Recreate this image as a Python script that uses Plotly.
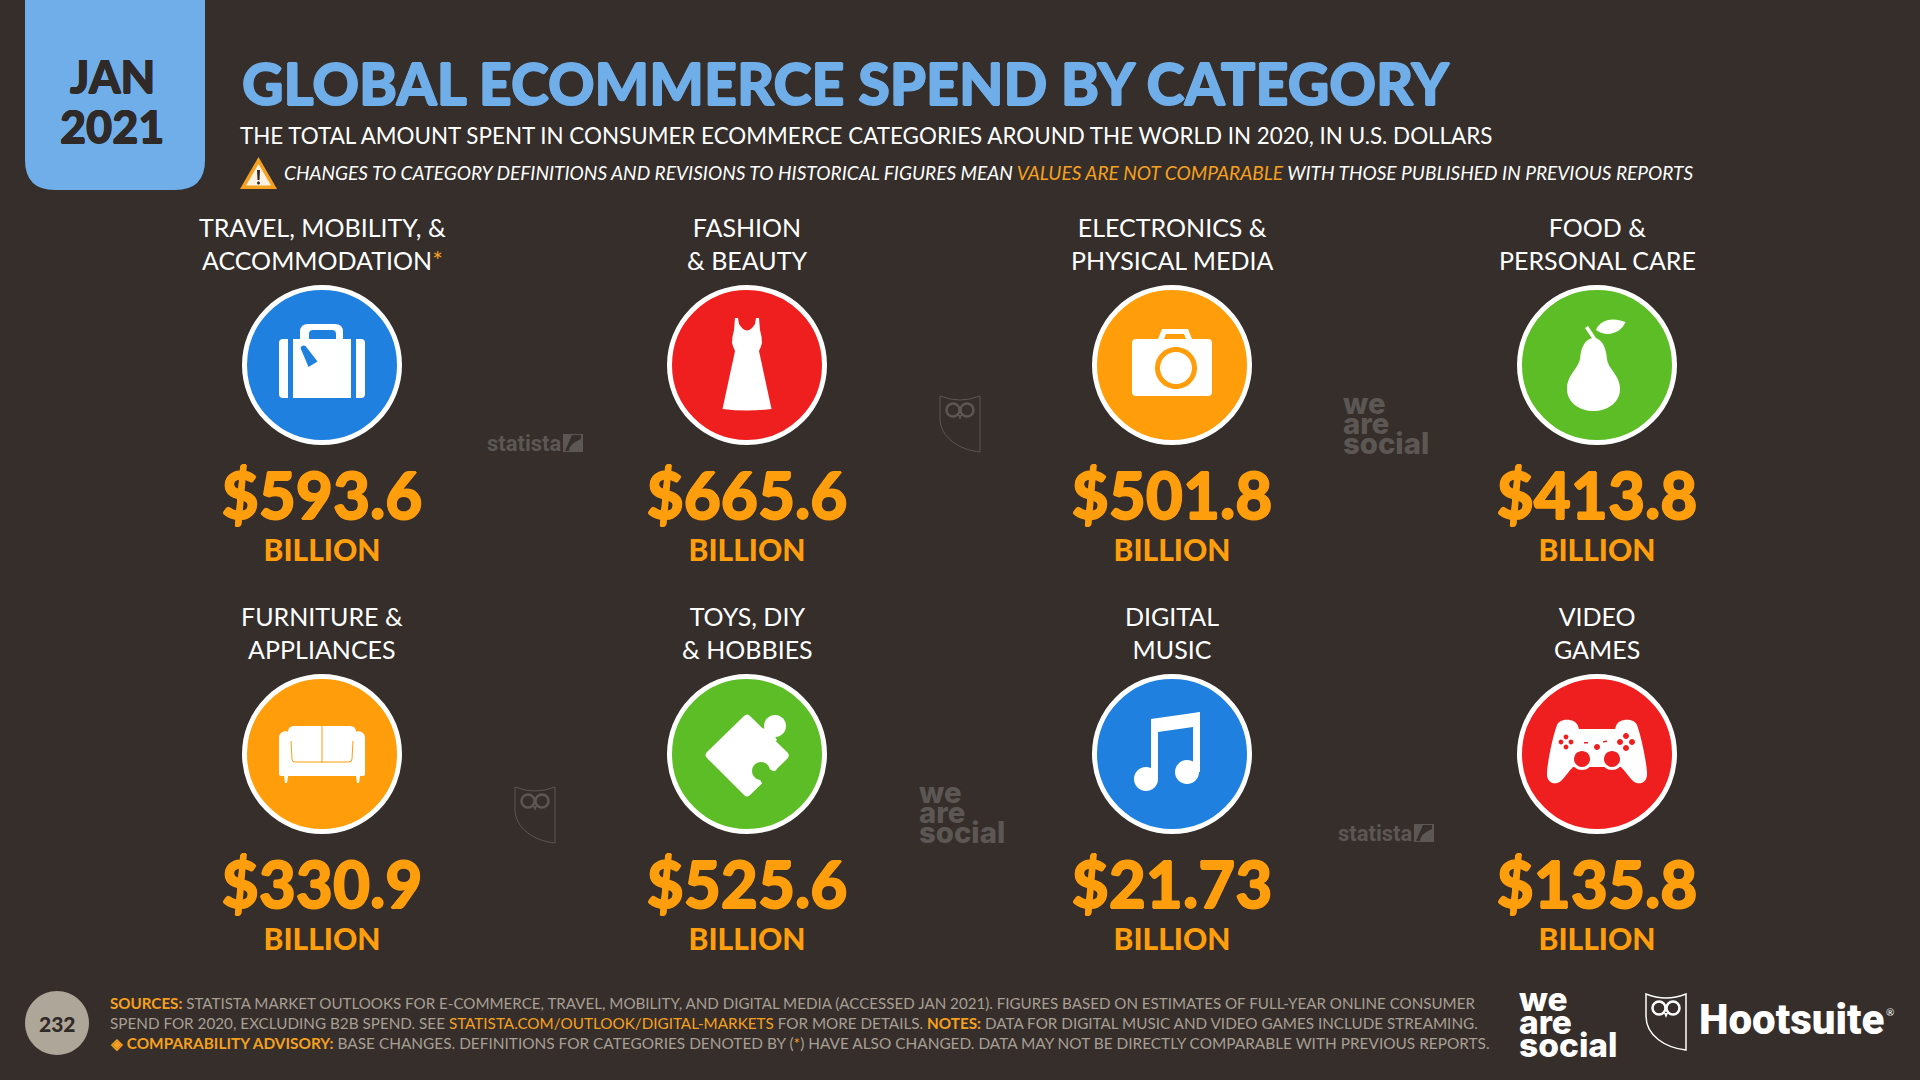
import re
import plotly.graph_objects as go

BG = '#352e2a'
BLUE_TAG = '#70aee9'
ORANGE = '#ff9e0c'
ORANGE_TXT = '#f5a11f'
GREY_TXT = '#a89f94'
WATERMARK = '#5c5754'
BLUE, RED, AMBER, GREEN = '#1f80e0', '#f01f1f', '#ff9e0a', '#5dbd26'

categories = ['TRAVEL, MOBILITY, &<br>ACCOMMODATION<span style="color:#f5a11f">*</span>',
              'FASHION<br>& BEAUTY',
              'ELECTRONICS &<br>PHYSICAL MEDIA',
              'FOOD &<br>PERSONAL CARE',
              'FURNITURE &<br>APPLIANCES',
              'TOYS, DIY<br>& HOBBIES',
              'DIGITAL<br>MUSIC',
              'VIDEO<br>GAMES']
spend_billion = [593.6, 665.6, 501.8, 413.8, 330.9, 525.6, 21.73, 135.8]
unit_label = 'BILLION'

title = 'GLOBAL ECOMMERCE SPEND BY CATEGORY'
subtitle = 'THE TOTAL AMOUNT SPENT IN CONSUMER ECOMMERCE CATEGORIES AROUND THE WORLD IN 2020, IN U.S. DOLLARS'
warning = ('CHANGES TO CATEGORY DEFINITIONS AND REVISIONS TO HISTORICAL FIGURES MEAN '
           '<span style="color:#f5a11f">VALUES ARE NOT COMPARABLE</span> '
           'WITH THOSE PUBLISHED IN PREVIOUS REPORTS')
footer_lines = [
    '<b style="color:#f5a11f">SOURCES:</b> STATISTA MARKET OUTLOOKS FOR E-COMMERCE, TRAVEL, MOBILITY, AND DIGITAL MEDIA (ACCESSED JAN 2021). FIGURES BASED ON ESTIMATES OF FULL-YEAR ONLINE CONSUMER',
    'SPEND FOR 2020, EXCLUDING B2B SPEND. SEE <span style="color:#f5a11f">STATISTA.COM/OUTLOOK/DIGITAL-MARKETS</span> FOR MORE DETAILS. <b style="color:#f5a11f">NOTES:</b> DATA FOR DIGITAL MUSIC AND VIDEO GAMES INCLUDE STREAMING.',
    '<b style="color:#f5a11f">◈ COMPARABILITY ADVISORY:</b> BASE CHANGES. DEFINITIONS FOR CATEGORIES DENOTED BY (<span style="color:#f5a11f">*</span>) HAVE ALSO CHANGED. DATA MAY NOT BE DIRECTLY COMPARABLE WITH PREVIOUS REPORTS.',
]

# layout of the 4x2 grid, in page pixels
COL_X = [322, 747, 1172, 1597]
ROW_Y = [365, 754]
circle_colors = [BLUE, RED, AMBER, GREEN, AMBER, GREEN, BLUE, RED]

shapes = []
annotations = []


def place(path, cx, cy, s=1.0):
    def move(m):
        return f'{cx + float(m.group(1)) * s:.2f},{cy + float(m.group(2)) * s:.2f}'
    return re.sub(r'(-?[\d.]+),(-?[\d.]+)', move, path)


def circ(x, y, r):
    k = 0.5523 * r
    return (f'M{x - r},{y} C{x - r},{y - k} {x - k},{y - r} {x},{y - r} '
            f'C{x + k},{y - r} {x + r},{y - k} {x + r},{y} '
            f'C{x + r},{y + k} {x + k},{y + r} {x},{y + r} '
            f'C{x - k},{y + r} {x - r},{y + k} {x - r},{y} Z')


def fill(path, cx, cy, color, s=1.0):
    shapes.append(dict(type='path', path=place(path, cx, cy, s), fillcolor=color,
                       line=dict(width=0), xref='x', yref='y'))


def stroke(path, cx, cy, color, width, s=1.0):
    shapes.append(dict(type='path', path=place(path, cx, cy, s),
                       line=dict(color=color, width=width), xref='x', yref='y'))


def thicken(color, w):
    # the reference face is heavier than any installed one
    return f'{w}px 0 0 {color}, -{w}px 0 0 {color}, 0 {w}px 0 {color}, 0 -{w}px 0 {color}'


def text(x, y, s, size, color='white', weight=400, anchor='center', italic=False, family='Lato', heavy=0):
    font = dict(family=family, size=size, color=color, weight=weight,
                style='italic' if italic else 'normal')
    if heavy:
        font['shadow'] = thicken(color, heavy)
    annotations.append(dict(x=x, y=y, text=s, showarrow=False, xanchor=anchor, yanchor='middle',
                            align=anchor if anchor != 'center' else 'center', xref='x', yref='y',
                            font=font))


def suitcase(cx, cy, c):
    w = 'white'
    fill('M-43,-22 Q-43,-26 -39,-26 L-34,-26 L-34,33 L-39,33 Q-43,33 -43,29 Z', cx, cy, w)
    fill('M43,-22 Q43,-26 39,-26 L34,-26 L34,33 L39,33 Q43,33 43,29 Z', cx, cy, w)
    fill('M-29,-26 L29,-26 L29,33 L-29,33 Z', cx, cy, w)
    fill('M-22,-26 L-22,-33 Q-22,-41 -14,-41 L13,-41 Q21,-41 21,-33 L21,-26 L14,-26 L14,-31 '
         'Q14,-35 10,-35 L-9,-35 Q-13,-35 -13,-31 L-13,-26 Z', cx, cy, w)
    fill('M-21.5,-17 Q-20,-20.5 -16.5,-19 L-4.5,-3.5 L-13.5,2 Z', cx, cy, c)


def dress(cx, cy, c):
    fill('M-12,-47 L-9,-47 L-8,-41 Q0,-28 8,-41 L9,-47 L12,-47 L13,-35 Q15,-28 15,-22 Q14,-18 12,-14 '
         'L24.5,44 Q0,47 -24.5,44 L-12,-14 Q-14,-18 -15,-22 Q-15,-28 -13,-35 Z', cx, cy, 'white')


def camera(cx, cy, c):
    fill('M-36,-26 L-14,-26 L-10,-36 L16,-36 L20,-26 L36,-26 Q40,-26 40,-22 L40,27 Q40,31 36,31 '
         'L-36,31 Q-40,31 -40,27 L-40,-22 Q-40,-26 -36,-26 Z', cx, cy, 'white')
    fill('M-6,-31 L12,-31 L14,-26 L-8,-26 Z', cx, cy, c)
    fill(circ(4, 3, 21), cx, cy, c)
    fill(circ(4, 3, 16), cx, cy, 'white')


def pear(cx, cy, c):
    fill('M-4,-27 C3,-28 9,-20 10,-6 C11,4 23,10 23,24 C23,38 10,46 -3.5,46 C-17,46 -30,38 -30,24 '
         'C-30,10 -19,4 -17,-6 C-16,-18 -12,-26 -4,-27 Z', cx, cy, 'white')
    fill('M-12,-37 L-9,-39 L-1,-27 L-4,-25 Z', cx, cy, 'white')
    fill('M-1,-35 C2,-44 14,-49 28.5,-43 C24,-32 10,-27 -1,-35 Z', cx, cy, 'white')


def sofa(cx, cy, c):
    w = 'white'
    fill('M-34,-22 Q-34,-28 -28,-28 L28,-28 Q34,-28 34,-22 L34,10 L-34,10 Z', cx, cy, w)
    fill('M-43,-16 C-43,-25 -30,-25 -30,-16 L-30,8 L30,8 L30,-16 C30,-25 43,-25 43,-16 '
         'L43,20 Q43,22 41,22 L-41,22 Q-43,22 -43,20 Z', cx, cy, w)
    fill('M-38,22 L-34,22 L-35,29 L-37,29 Z', cx, cy, w)
    fill('M38,22 L34,22 L35,29 L37,29 Z', cx, cy, w)
    stroke('M-31,-13 L-30,5 Q-30,8 -27,8 L27,8 Q30,8 30,5 L31,-13', cx, cy, c, 1)
    stroke('M0,-28 L0,9', cx, cy, c, 1)


def puzzle(cx, cy, c):
    fill('M-3,-38 Q0,-41 3,-38 L41,-1 Q43,2 40,5 L3,41 Q0,44 -3,41 L-40,4 Q-43,1 -40,-2 Z', cx, cy, 'white')
    fill(circ(28, -28, 11), cx, cy, 'white')
    fill('M14,-26 L24,-24 L30,-14 L24,-8 Z', cx, cy, 'white')
    fill(circ(14, 17, 9), cx, cy, c)
    fill('M20,14 L33,20 L17,33 L12,24 Z', cx, cy, c)
    fill(circ(27, 14, 3), cx, cy, 'white')


def music(cx, cy, c):
    w = 'white'
    fill(circ(-26, 25, 12), cx, cy, w)
    fill(circ(15, 18, 12), cx, cy, w)
    fill('M-21,-35 L-14,-35 L-14,25 L-21,25 Z', cx, cy, w)
    fill('M21,-40 L28,-42 L28,18 L21,18 Z', cx, cy, w)
    fill('M-21,-35 L28,-42 L28,-28 L-21,-21 Z', cx, cy, w)


def gamepad(cx, cy, c):
    fill('M-40,-29 C-37,-36 -22,-36 -19,-28 L-18,-25 L18,-25 L19,-28 C22,-36 37,-36 40,-29 '
         'C44,-18 49,5 50,18 C51,29 42,32 36,27 C32,23 28,17 24,13 L-24,13 C-28,17 -32,23 -36,27 '
         'C-42,32 -51,29 -50,18 C-49,5 -44,-18 -40,-29 Z', cx, cy, 'white')
    for sx in (-15, 15):
        fill(circ(sx, 5, 11), cx, cy, 'white')
        fill(circ(sx, 5, 8), cx, cy, c)
    for dx, dy in [(-5, 0), (5, 0), (0, -5), (0, 5)]:
        fill(circ(-31 + dx, -12 + dy, 2.4), cx, cy, c)
        fill(circ(29 + dx * 1.2, -12 + dy * 1.2, 3), cx, cy, c)
    fill(circ(0, -7, 3), cx, cy, c)
    fill('M-13,-12 L-9,-12 L-9,-10.5 L-13,-10.5 Z', cx, cy, c)
    fill('M6,-13 L10,-13.5 L10,-12 L6,-11.5 Z', cx, cy, c)


def owl(cx, cy, color, s=1.0, width=1.5):
    stroke('M-20,-28 Q-10,-24 0,-24 Q10,-24 20,-28 L20,28 C0,26 -20,14 -20,-6 Z', cx, cy, color, width, s)
    stroke(circ(-7, -14, 6.5), cx, cy, color, 2.5, s)
    stroke(circ(7, -14, 6.5), cx, cy, color, 2.5, s)
    fill('M-2,-9 L2,-9 L0,-4 Z', cx, cy, color, s)


def statista(x, y):
    text(x, y, 'statista', 22, WATERMARK, 700, 'left', family='Roboto')
    fill('M0,0 L20,0 L20,18 L0,18 Z', x + 78, y - 9, WATERMARK)
    fill('M18,1 L9,1 L2,17 L6,17 Q6,10 18,5 Z', x + 78, y - 9, BG)


def we_are_social(x, y, size, pitch, color):
    for i, word in enumerate(['we', 'are', 'social']):
        text(x, y + i * pitch, word, size, color, 800, 'left', family='Inter')


fig = go.Figure()

# category discs
disc_x = [COL_X[i % 4] for i in range(len(categories))]
disc_y = [ROW_Y[i // 4] for i in range(len(categories))]
fig.add_trace(go.Scatter(x=disc_x, y=disc_y, mode='markers', hoverinfo='skip',
                         marker=dict(size=155, color=circle_colors, line=dict(color='white', width=5))))

# big dollar values and the unit under them
fig.add_trace(go.Scatter(x=disc_x, y=[y + 138 for y in disc_y], mode='text', hoverinfo='skip',
                         text=[f'${v}' for v in spend_billion], textposition='middle center',
                         textfont=dict(family='Lato', size=64, color=ORANGE, weight=900,
                                       shadow=thicken(ORANGE, 0.7))))
fig.add_trace(go.Scatter(x=disc_x, y=[y + 188 for y in disc_y], mode='text', hoverinfo='skip',
                         text=[unit_label] * len(disc_x), textposition='middle center',
                         textfont=dict(family='Lato', size=30, color=ORANGE, weight=900)))

for x, y, label in zip(disc_x, disc_y, categories):
    text(x, y - 121.5, label, 25, 'white', 400)

for draw, x, y, c in zip([suitcase, dress, camera, pear, sofa, puzzle, music, gamepad],
                         disc_x, disc_y, circle_colors):
    draw(x, y, c)

# date tag
shapes.append(dict(type='path', xref='x', yref='y', fillcolor=BLUE_TAG, line=dict(width=0),
                   path='M25,0 L205,0 L205,160 Q205,190 175,190 L55,190 Q25,190 25,160 Z'))
text(112, 76, 'JAN', 45, '#2f2a27', 900, heavy=0.5)
text(112, 126, '2021', 45, '#2f2a27', 900, heavy=0.5)

# header
text(240, 82, title, 57.5, BLUE_TAG, 900, 'left', heavy=0.8)
text(238, 135, subtitle, 22.4, 'white', 400, 'left')
text(282, 172, warning, 19.1, 'white', 400, 'left', italic=True)
fill('M258.5,157 L277,189 L240,189 Z', 0, 0, ORANGE_TXT)
fill('M258.5,164 L271,185.5 L246,185.5 Z', 0, 0, '#f8f1e4')
fill('M257,170 L260,170 L259.5,180 L257.5,180 Z', 0, 0, '#2f2a27')
fill(circ(258.5, 183, 1.5), 0, 0, '#2f2a27')

# footer
fill(circ(57, 1023, 32), 0, 0, '#aea698')
text(57, 1023, '232', 21, '#2f2a27', 900)
for y, size, line in zip([1003, 1023, 1043], [15.15, 15.25, 15.4], footer_lines):
    text(108, y, line, size, GREY_TXT, 400, 'left')

we_are_social(1517, 999, 33.5, 23, 'white')
owl(1666, 1022, 'white', 1.0, 1.5)
text(1697, 1019, 'Hootsuite', 42, 'white', 900, 'left', family='Roboto')
text(1896, 1012, '®', 10, 'white', 400, 'right')

# faint watermarks between the columns
statista(485, 443)
statista(1336, 833)
we_are_social(1341, 403, 29.3, 20, WATERMARK)
we_are_social(917, 792, 29.3, 20, WATERMARK)
owl(960, 424, WATERMARK, 1.0, 1)
owl(535, 815, WATERMARK, 1.0, 1)

fig.update_layout(width=1920, height=1080, margin=dict(l=0, r=0, t=0, b=0),
                  paper_bgcolor=BG, plot_bgcolor=BG, showlegend=False,
                  shapes=shapes, annotations=annotations,
                  xaxis=dict(range=[0, 1920], visible=False, fixedrange=True),
                  yaxis=dict(range=[1080, 0], visible=False, fixedrange=True))

fig.write_html('out.html', config=dict(displayModeBar=False),
               post_script="document.body.style.margin='0';document.body.style.overflow='hidden';")
